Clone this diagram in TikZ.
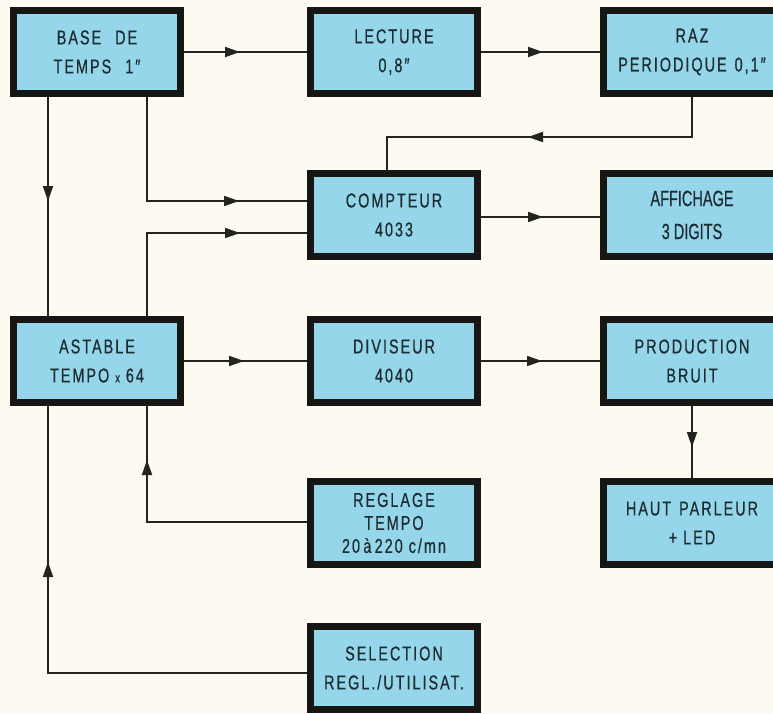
\documentclass[tikz,border=0pt]{standalone}
\usepackage{fontspec}
\setmainfont{Liberation Sans}[FakeStretch=0.72, LetterSpace=10, FakeBold=0.6]
\newfontfamily\condfont{Liberation Sans}[FakeStretch=0.66, FakeBold=0.6]
\usetikzlibrary{arrows.meta,decorations.markings}
\definecolor{bgcol}{RGB}{252,250,241}
\definecolor{boxcol}{RGB}{150,214,235}
\definecolor{bordercol}{RGB}{22,22,20}
\definecolor{txtcol}{RGB}{28,44,48}
\definecolor{linecol}{RGB}{35,35,32}
\begin{document}
\begin{tikzpicture}[x=1pt,y=-1pt,
  blk/.style={draw=bordercol, fill=boxcol, line width=7pt, minimum width=167pt,
    minimum height=83pt, inner sep=0pt, align=center, text=txtcol,
    font=\fontsize{20}{29}\selectfont},
  wide/.style={minimum width=178pt},
  conn/.style={draw=linecol, line width=1.8pt},
  midarrow/.style={postaction={decorate}, decoration={markings,
    mark=at position #1 with {\arrow{Triangle[length=15pt,width=10pt]}}}}]
\fill[bgcol] (0,0) rectangle (773,713);
\useasboundingbox (0,0) rectangle (773,713);

% nodes
\node[blk] (base) at (97,52) {BASE\hspace{14pt}DE\\TEMPS\hspace{14pt}1″};
\node[blk] (lect) at (394,52) {LECTURE\\0,8″};
\node[blk,wide] (raz) at (692,52) {RAZ\\PERIODIQUE\hspace{8pt}0,1″};
\node[blk] (comp) at (394,215) {COMPTEUR\\4033};
\node[blk,wide,font=\condfont\fontsize{22}{33}\selectfont] (aff) at (692,215) {AFFICHAGE\\3 DIGITS};
\node[blk] (ast) at (97,361) {ASTABLE\\TEMPO {\fontsize{13}{13}\selectfont x} 64};
\node[blk] (div) at (394,361) {DIVISEUR\\4040};
\node[blk,wide] (prod) at (692,361) {PRODUCTION\\BRUIT};
\node[blk,font=\fontsize{20}{23}\selectfont] (reg) at (394,523) {REGLAGE\\TEMPO\\20\,à\,220 c/mn};
\node[blk,wide] (hp) at (692,523) {HAUT\hspace{8pt}PARLEUR\\+ LED};
\node[blk] (sel) at (394,668) {SELECTION\\REGL./UTILISAT.};

% bend coordinates
\coordinate (pR) at (692,137);
\coordinate (pC) at (387,137);
\coordinate (pB) at (147,201);
\coordinate (pA) at (147,233);
\coordinate (pL) at (48,0);
\coordinate (pCA) at (0,217);
\coordinate (pP) at (692,0);
\coordinate (pG) at (147,522);
\coordinate (pS) at (48,673);

% connectors
\draw[conn, midarrow=56pt] (base.east) -- (lect.west);
\draw[conn, midarrow=62pt] (lect.east) -- (raz.west);
\draw[conn, midarrow=204pt] (raz.south -| pR) -- (pR) -- (pC) -- (comp.north -| pC);
\draw[conn, midarrow=196pt] (base.south -| pB) -- (pB) -- (comp.west |- pB);
\draw[conn, midarrow=176pt] (ast.north -| pA) -- (pA) -- (comp.west |- pA);
\draw[conn, midarrow=104pt] (base.south -| pL) -- (ast.north -| pL);
\draw[conn, midarrow=62pt] (comp.east |- pCA) -- (aff.west |- pCA);
\draw[conn, midarrow=60pt] (ast.east) -- (div.west);
\draw[conn, midarrow=61pt] (div.east) -- (prod.west);
\draw[conn, midarrow=41pt] (prod.south -| pP) -- (hp.north -| pP);
\draw[conn, midarrow=222pt] (reg.west |- pG) -- (pG) -- (ast.south -| pG);
\draw[conn, midarrow=370pt] (sel.west |- pS) -- (pS) -- (ast.south -| pS);
\end{tikzpicture}
\end{document}
